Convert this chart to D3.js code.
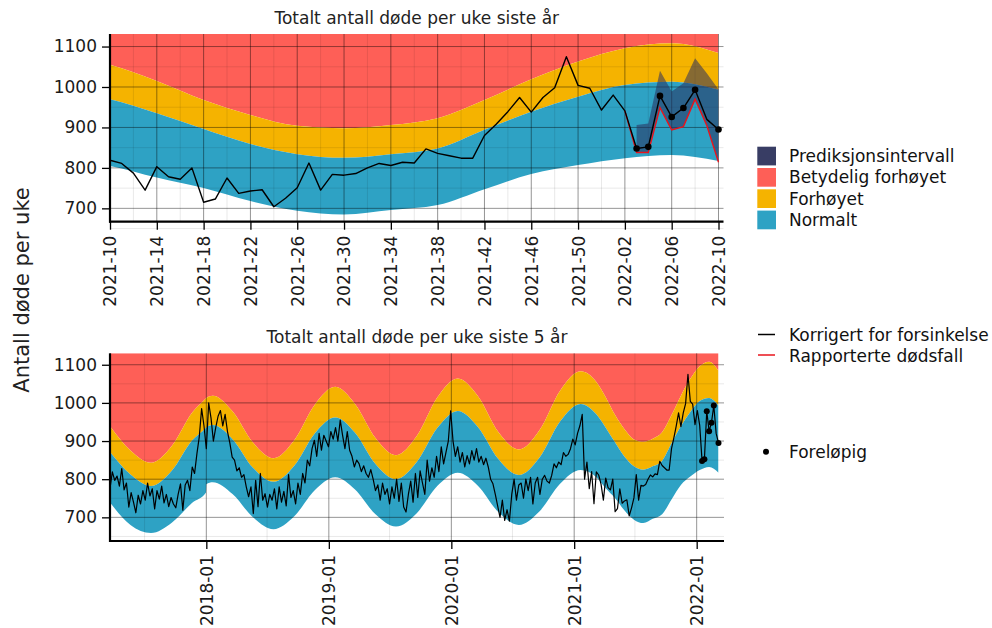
<!DOCTYPE html>
<html><head><meta charset="utf-8">
<script src="https://cdn.jsdelivr.net/npm/d3@7"></script>
<style>body{margin:0;background:#fff;} svg{display:block;font-family:"DejaVu Sans",sans-serif;}</style>
</head><body><svg id="chart" width="992" height="628"></svg>
<script>
// ---------------- DATA ----------------
const bandDates = ["2017-03-20","2017-05-20","2017-07-20","2017-09-20","2017-11-20","2017-12-31","2018-01-01","2018-01-20",
  "2018-03-20","2018-05-20","2018-07-20","2018-09-20","2018-11-20","2019-01-20","2019-03-20","2019-05-20","2019-07-20",
  "2019-09-20","2019-11-20","2020-01-20","2020-03-20","2020-05-20","2020-07-20","2020-09-20","2020-11-20","2021-01-20",
  "2021-03-08","2021-04-05","2021-05-03","2021-05-31","2021-06-28","2021-07-26","2021-08-23","2021-09-20","2021-10-18",
  "2021-11-15","2021-12-13","2022-01-10","2022-02-07","2022-03-07"];
const bandUpper = [939,875,843,887,975,1012,1013,1019, 978,896,855,902,995,1042,997,908,863, 913,1014,1064,1018,924,878,929,1032,1083,
  1055,1015,968,931,904,898,906,923,968, 1019,1063,1096,1108,1084];
const bandMid = [871,812,782,822,902,935,936,942, 905,830,793,835,920,962,922,840,800, 845,934,979,937,853,811,857,951,997,
  970,935,896,859,834,825,834,848,894, 939,976,1005,1013,993];
const bandLower = [739,680,659,686,738,765,787,792, 761,700,669,703,771,805,773,708,676, 711,782,817,783,714,680,716,788,824,
  805,776,750,718,694,685,696,708,747, 785,807,824,832,817];

const seriesStart = "2017-03-20";   // 2017-W12
const weeklyEarly = [
  776,819,797,808,782,828,772,790,727,765, 740,712,758,735,770,745,790,756,775,722,
  770,748,782,738,760,728,752,735,725,760, 788,719,785,797,770,832,815,867,911,985,
  940,880,1000,960,900,935,965,980,940,970, 925,895,858,850,822,830,805,812,780,754,
  780,710,797,728,815,745,762,727,760,745, 775,722,780,740,768,730,812,752,770,735,
  790,760,815,790,850,835,880,902,860,920, 876,915,900,885,925,905,935,900,955,915,
  880,925,876,860,832,850,841,820,835,815, 805,825,800,770,785,745,790,760,775,735,
  780,750,800,742,790,727,714,760,795,740, 815,752,822,790,760,850,795,830,805,860,
  820,885,840,870,900,979,900,860,885,845, 870,832,862,840,875,850,880,845,860,838,
  855,832,800,788,760,730,700,745,692,720, 690,760,800,745,785,790,750,800,770,805,
  735,790,805,760,800,810,795,790,810,840, 830,845,838,870,860,865,880,905,890,920,
  940,970,800,845,775,820,736];
const lastYearStart = "2021-03-08"; // 2021-W10
const weeklyLastYear = [819,811,787,745,803,778,772,800,715,723,775,737,743,746,704,725,751,812,745,784,
  782,786,800,811,806,814,812,847,836,830,824,824,880,908,939,974,938,974,998,1075,
  1004,997,943,980,941,848,852,978,926,948,993,920,895];
const preliminaryFlags = [0,0,0,0,0,0,0,0,0,0,0,0,0,0,0,0,0,0,0,0,0,0,0,0,0,0,0,0,0,0,0,0,0,0,0,0,0,0,0,0,
  0,0,0,0,0,1,1,1,1,1,1,0,1];
const reportedStart = "2022-01-10"; // 2022-W02
const reportedValues = [941,838,838,949,894,902,970,905,814];
const piStart = "2022-01-17"; // 2022-W03
const piUpper = [906,910,1040,989,1009,1071,1034,994];
const piLower = [838,838,949,894,902,970,905,814];

const topTickLabels = ["2021-10","2021-14","2021-18","2021-22","2021-26","2021-30","2021-34","2021-38","2021-42","2021-46","2021-50","2022-02","2022-06","2022-10"];
const bottomTickLabels = ["2018-01","2019-01","2020-01","2021-01","2022-01"];
const bottomMinorTicks = ["2017-07-01","2018-07-01","2019-07-01","2020-07-01","2021-07-01"];
const yTicks = [700,800,900,1000,1100];
const yMinor = [650,750,850,950,1050];

const legendBoxes = [["Prediksjonsintervall","#383d64"],["Betydelig forhøyet","#fe5f57"],["Forhøyet","#f5b300"],["Normalt","#2ea2c4"]];
const COL = {red:"#fe5f57", yellow:"#f5b300", blue:"#2ea2c4", pi:"#2a2e5c", reported:"#e8141c"};

// ---------------- HELPERS ----------------
const parse = d3.utcParse("%Y-%m-%d");
function isoMonday(label){
  const [y,w] = label.split("-").map(Number);
  const jan4 = new Date(Date.UTC(y,0,4));
  const dow = (jan4.getUTCDay()+6)%7;
  return d3.utcDay.offset(jan4, -dow + (w-1)*7);
}
const weekly = (start, arr) => arr.map((v,i)=>({d:d3.utcDay.offset(parse(start),7*i), v, i}));
const bands = bandDates.map((d,i)=>({d:parse(d), u:bandUpper[i], m:bandMid[i], l:bandLower[i]}));
const fullSeries = weekly(seriesStart, weeklyEarly.concat(weeklyLastYear));
const lastYear = weekly(lastYearStart, weeklyLastYear).map((p,i)=>({...p, prelim:preliminaryFlags[i]}));
const reported = weekly(reportedStart, reportedValues);
const pi = weekly(piStart, piUpper).map((p,i)=>({d:p.d, u:p.v, l:piLower[i]}));

const svg = d3.select("#chart");

function panel(cfg){
  const g = svg.append("g");
  const x = cfg.x, y = cfg.y;
  const id = cfg.id;
  svg.append("defs").append("clipPath").attr("id",id).append("rect")
    .attr("x",cfg.x0).attr("y",cfg.y0).attr("width",cfg.x1-cfg.x0).attr("height",cfg.y1-cfg.y0);
  const bg = g.append("g").attr("clip-path",`url(#${id})`);
  const curve = d3.curveMonotoneX;
  bg.append("path").datum(bands).attr("fill",COL.red)
    .attr("d", d3.area().curve(curve).x(d=>x(d.d)).y0(d=>y(d.u)).y1(cfg.y0));
  bg.append("path").datum(bands).attr("fill",COL.yellow)
    .attr("d", d3.area().curve(curve).x(d=>x(d.d)).y0(d=>y(d.m)).y1(d=>y(d.u)));
  bg.append("path").datum(bands).attr("fill",COL.blue)
    .attr("d", d3.area().curve(curve).x(d=>x(d.d)).y0(d=>y(d.l)).y1(d=>y(d.m)));
  // grid
  const grid = g.append("g");
  yMinor.forEach(v=>grid.append("line").attr("x1",cfg.x0).attr("x2",cfg.xe).attr("y1",y(v)).attr("y2",y(v))
    .attr("stroke","rgba(0,0,0,0.09)").attr("stroke-width",1));
  cfg.xMinor.forEach(d=>grid.append("line").attr("x1",x(d)).attr("x2",x(d)).attr("y1",cfg.y0).attr("y2",cfg.y1)
    .attr("stroke","rgba(0,0,0,0.09)").attr("stroke-width",1));
  yTicks.forEach(v=>grid.append("line").attr("x1",cfg.x0).attr("x2",cfg.xe).attr("y1",y(v)).attr("y2",y(v))
    .attr("stroke","rgba(0,0,0,0.42)").attr("stroke-width",1));
  cfg.xTicks.forEach(d=>grid.append("line").attr("x1",x(d)).attr("x2",x(d)).attr("y1",cfg.y0).attr("y2",cfg.y1)
    .attr("stroke","rgba(0,0,0,0.42)").attr("stroke-width",1));
  if(cfg.extra) cfg.extra(g);
  // line
  g.append("path").datum(cfg.series).attr("fill","none").attr("stroke","#000").attr("stroke-width",cfg.lw)
    .attr("stroke-linejoin","round")
    .attr("d", d3.line().x(d=>x(d.d)).y(d=>y(d.v)));
  g.selectAll(null).data(cfg.series.filter(d=>d.prelim)).join("circle")
    .attr("cx",d=>x(d.d)).attr("cy",d=>y(d.v)).attr("r",cfg.r).attr("fill","#000");
  // axes
  const ya = g.append("g").attr("transform",`translate(${cfg.x0},0)`)
    .call(d3.axisLeft(y).tickValues(yTicks).tickFormat(d3.format("d")).tickSize(8).tickPadding(5));
  ya.select(".domain").remove();
  ya.selectAll(".tick line").attr("stroke","#000").attr("stroke-width",1.3);
  ya.selectAll(".tick text").attr("font-size",17).attr("fill","#1a1a1a").attr("font-family","DejaVu Sans");
  const xa = g.append("g").attr("transform",`translate(0,${cfg.y1})`)
    .call(d3.axisBottom(x).tickValues(cfg.xTicks).tickFormat((d,i)=>cfg.xLabels[i]).tickSize(8).tickPadding(6));
  xa.select(".domain").remove();
  xa.selectAll(".tick line").attr("stroke","#000").attr("stroke-width",1.3);
  xa.selectAll(".tick text").attr("font-size",17).attr("fill","#1a1a1a").attr("font-family","DejaVu Sans")
    .attr("transform","rotate(-90)").attr("text-anchor","end").attr("x",-14).attr("y",0).attr("dy","0.35em");
  g.append("line").attr("x1",cfg.x0).attr("x2",cfg.x0).attr("y1",cfg.y0).attr("y2",cfg.y1+1).attr("stroke","#000").attr("stroke-width",2.2);
  g.append("line").attr("x1",cfg.x0-1).attr("x2",cfg.xe).attr("y1",cfg.y1).attr("y2",cfg.y1).attr("stroke","#000").attr("stroke-width",2.2);
  g.append("text").attr("x",(cfg.x0+cfg.xe)/2).attr("y",cfg.y0-10).attr("text-anchor","middle")
    .attr("font-size",17).attr("fill","#222").text(cfg.title);
}

// top panel
const topTicks = topTickLabels.map(isoMonday);
const topMinor = topTicks.slice(0,-1).map(d=>d3.utcDay.offset(d,14));
const xTop = d3.scaleUtc().domain([isoMonday("2021-10"), isoMonday("2022-10")]).range([110,718.5]);
const yTop = d3.scaleLinear().domain([667,1131]).range([221.7,34]);
panel({id:"clipTop", x:xTop, y:yTop, x0:110, x1:718.5, xe:723.5, y0:34, y1:221.7,
  xTicks:topTicks, xLabels:topTickLabels, xMinor:topMinor, series:lastYear, lw:1.4, r:3.3,
  title:"Totalt antall døde per uke siste år",
  extra:(g)=>{
    g.append("path").datum(pi).attr("fill",COL.pi).attr("fill-opacity",0.55)
      .attr("d", d3.area().x(d=>xTop(d.d)).y0(d=>yTop(d.l)).y1(d=>yTop(d.u)));
    g.append("path").datum(reported).attr("fill","none").attr("stroke",COL.reported).attr("stroke-width",1.4)
      .attr("d", d3.line().x(d=>xTop(d.d)).y(d=>yTop(d.v)));
  }});

// bottom panel
const botTicks = bottomTickLabels.map(l=>parse(l+"-01"));
const xBot = d3.scaleUtc().domain([parse(seriesStart), fullSeries[fullSeries.length-1].d]).range([110,718.5]);
const yBot = d3.scaleLinear().domain([638,1130]).range([541,353.3]);
const n = fullSeries.length;
const botSeries = fullSeries.map((p,i)=>({...p, prelim: preliminaryFlags[i-(n-weeklyLastYear.length)]}));
panel({id:"clipBot", x:xBot, y:yBot, x0:110, x1:718.5, xe:724, y0:353.3, y1:541,
  xTicks:botTicks, xLabels:bottomTickLabels, xMinor:bottomMinorTicks.map(parse), series:botSeries, lw:1.2, r:3,
  title:"Totalt antall døde per uke siste 5 år"});

// y title
svg.append("text").attr("transform","translate(29,290) rotate(-90)").attr("text-anchor","middle")
  .attr("font-size",21).attr("fill","#222").text("Antall døde per uke");

// legend
const lg = svg.append("g");
legendBoxes.forEach(([t,c],i)=>{
  lg.append("rect").attr("x",757.3).attr("y",146.7+i*21.3).attr("width",18.7).attr("height",18.7).attr("fill",c);
  lg.append("text").attr("x",789).attr("y",156+i*21.3).attr("dy","0.36em").attr("font-size",17).attr("fill","#111").text(t);
});
lg.append("line").attr("x1",758).attr("x2",775).attr("y1",334.5).attr("y2",334.5).attr("stroke","#000").attr("stroke-width",1.5);
lg.append("text").attr("x",789).attr("y",335).attr("dy","0.36em").attr("font-size",17).attr("fill","#111").text("Korrigert for forsinkelse");
lg.append("line").attr("x1",758).attr("x2",775).attr("y1",355).attr("y2",355).attr("stroke",COL.reported).attr("stroke-width",1.5);
lg.append("text").attr("x",789).attr("y",355.5).attr("dy","0.36em").attr("font-size",17).attr("fill","#111").text("Rapporterte dødsfall");
lg.append("circle").attr("cx",766).attr("cy",451.7).attr("r",3).attr("fill","#000");
lg.append("text").attr("x",789).attr("y",452).attr("dy","0.36em").attr("font-size",17).attr("fill","#111").text("Foreløpig");
</script></body></html>
